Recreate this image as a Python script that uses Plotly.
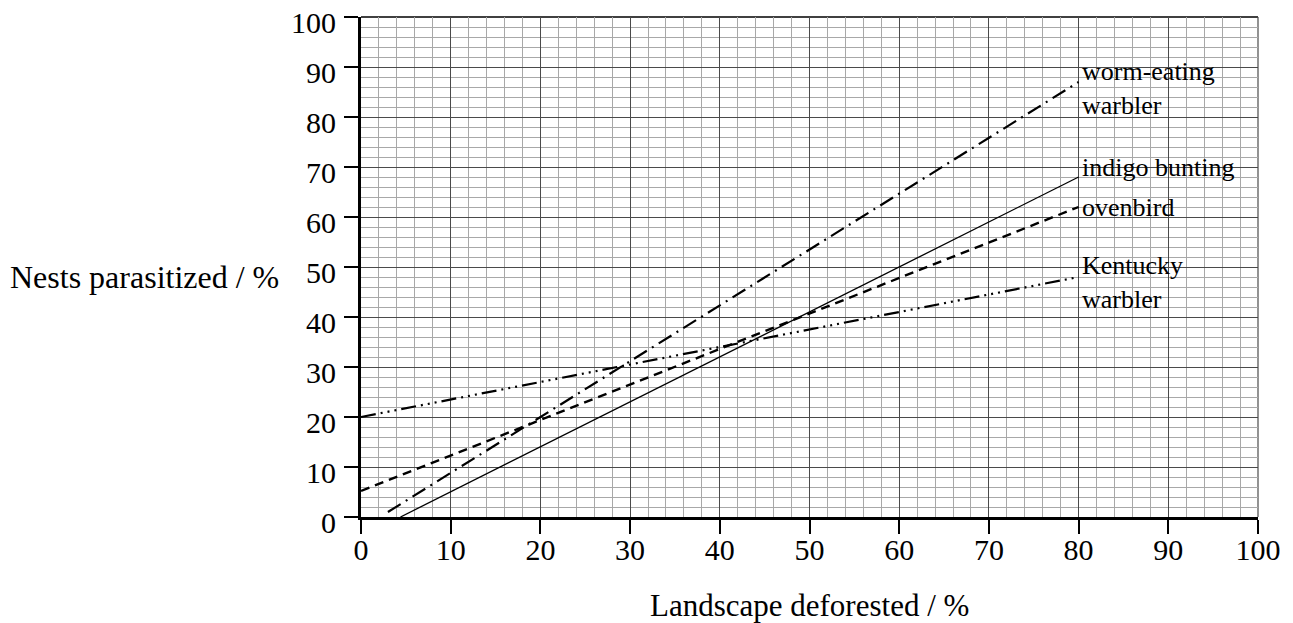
import plotly.graph_objects as go

# Data
species = ["worm-eating<br>warbler", "indigo bunting", "ovenbird", "Kentucky<br>warbler"]
x_start = [3.0, 4.4, 0.0, 0.0]
y_start = [1.0, 0.0, 5.2, 20.0]
x_end = [80.0, 80.0, 80.0, 80.0]
y_end = [87.0, 68.0, 62.0, 48.0]
dashes = ["15px,6px,2px,6px", "solid", "9px,6px", "15px,5px,2px,5px,2px,5px,2px,5px"]
widths = [2.2, 1.3, 2.4, 2.2]
label_dy = [-1.2, 2.0, 0.0, -1.0]
x_ticks = list(range(0, 101, 10))
y_ticks = list(range(0, 101, 10))

FONT = "Liberation Serif, Times New Roman, serif"

fig = go.Figure()
for i, name in enumerate(species):
    fig.add_trace(go.Scatter(
        x=[x_start[i], x_end[i]], y=[y_start[i], y_end[i]],
        mode="lines", line=dict(color="black", width=widths[i], dash=dashes[i]),
        showlegend=False, hoverinfo="skip"))
    fig.add_annotation(x=x_end[i], y=y_end[i] + label_dy[i], xref="x", yref="y",
                       text=name, showarrow=False, xanchor="left", yanchor="middle",
                       align="left", xshift=1,
                       font=dict(family=FONT, size=26, color="black"))

axis_common = dict(
    range=[0, 100], showgrid=True, gridcolor="#4a4a4a", gridwidth=1.2,
    minor=dict(dtick=2, showgrid=True, gridcolor="#a8a8a8", gridwidth=1, ticks=""),
    showline=True, linecolor="black", linewidth=3, zeroline=False,
    ticks="outside", ticklen=14, tickwidth=1.5, tickcolor="black",
    tickfont=dict(family=FONT, size=30, color="black"),
    fixedrange=True, automargin=False, ticklabeloverflow="allow",
)
fig.update_xaxes(tickvals=x_ticks, ticktext=[str(v) for v in x_ticks],
                 ticklabelstandoff=-10, **axis_common)
fig.update_yaxes(tickvals=y_ticks, ticktext=[str(v) for v in y_ticks],
                 ticklabelstandoff=2, ticklabelshift=5, **axis_common)

# border lines at top and right (major gridlines at the range ends)
fig.add_shape(type="line", xref="paper", yref="paper", x0=0, x1=1, y0=1, y1=1,
              line=dict(color="black", width=1.5), layer="below")
fig.add_shape(type="line", xref="paper", yref="paper", x0=1, x1=1, y0=0, y1=1,
              line=dict(color="#4a4a4a", width=1.2), layer="below")

# Axis titles
fig.add_annotation(x=-0.3935, y=48, xref="paper", yref="y", text="Nests parasitized / %",
                   showarrow=False, xanchor="left", yanchor="middle",
                   font=dict(family=FONT, size=32, color="black"))
fig.add_annotation(x=50, y=-0.176, xref="x", yref="paper", text="Landscape deforested / %",
                   showarrow=False, xanchor="center", yanchor="middle",
                   font=dict(family=FONT, size=31, color="black"))

fig.update_layout(
    width=1293, height=623,
    margin=dict(l=361, r=35, t=17, b=106, autoexpand=False),
    plot_bgcolor="white", paper_bgcolor="white",
)
fig.write_html("out.html", config={"displayModeBar": False},
               post_script="document.body.style.margin='0px';document.body.style.overflow='hidden';")
